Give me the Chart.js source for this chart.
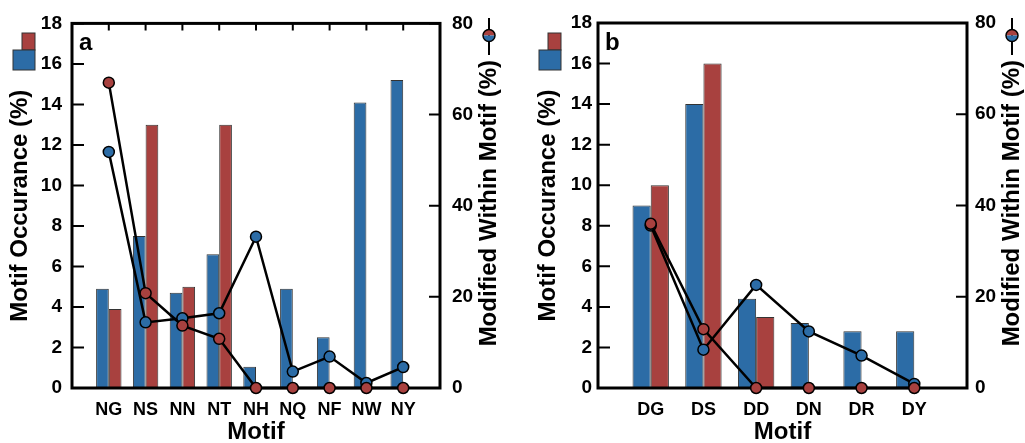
<!DOCTYPE html>
<html>
<head>
<meta charset="utf-8">
<script src="https://cdn.jsdelivr.net/npm/chart.js@4.4.0/dist/chart.umd.min.js"></script>
<style>
  html, body { margin: 0; padding: 0; background: #fff; }
  #wrap { position: relative; width: 1025px; height: 443px; overflow: hidden; }
  .panel { position: absolute; top: 0; height: 443px; }
  #panelA { left: 0; width: 512px; }
  #panelB { left: 512px; width: 513px; }
</style>
</head>
<body>
<div id="wrap">
  <div class="panel" id="panelA"><canvas id="chartA"></canvas></div>
  <div class="panel" id="panelB"><canvas id="chartB"></canvas></div>
</div>
<script>
// === Panel a data ===
const motifsA = ['NG', 'NS', 'NN', 'NT', 'NH', 'NQ', 'NF', 'NW', 'NY'];
const occurBlueA = [4.9, 7.5, 4.7, 6.6, 1.05, 4.9, 2.5, 14.1, 15.2];
const occurRedA = [3.9, 13, 5.0, 13, null, null, null, null, null];
const modBlueA = [51.8, 14.4, 15.3, 16.4, 33.2, 3.6, 6.9, 1.1, 4.6];
const modRedA = [67, 20.8, 13.7, 10.8, 0, 0, 0, 0, 0];

// === Panel b data ===
const motifsB = ['DG', 'DS', 'DD', 'DN', 'DR', 'DY'];
const occurBlueB = [9, 14, 4.4, 3.2, 2.8, 2.8];
const occurRedB = [10, 16, 3.5, null, null, null];
const modBlueB = [35.6, 8.4, 22.6, 12.4, 7.1, 0.9];
const modRedB = [36.0, 12.9, 0, 0, 0, 0];

// === Axis ticks ===
const occurTicks = [0, 2, 4, 6, 8, 10, 12, 14, 16, 18];
const modTicks = [0, 20, 40, 60, 80];

const BLUE = '#2c6ca6';
const RED = '#a8413f';
const FONT = "'Liberation Sans', Arial, sans-serif";

const toXY = arr => arr.map((v, i) => ({ x: i, y: v }));

// frame, inward ticks, panel letter and the little legend symbols
const framePlugin = {
  id: 'frame',
  beforeDatasetDraw(chart, args, opts) {
    if (args.index !== 2) return;
    const { ctx, chartArea: a, scales } = chart;
    ctx.save();
    ctx.strokeStyle = '#000';
    ctx.lineWidth = 2;
    ctx.beginPath();
    scales.y.ticks.forEach(t => {
      const y = scales.y.getPixelForValue(t.value);
      ctx.moveTo(a.left, y); ctx.lineTo(a.left + 12, y);
    });
    scales.y2.ticks.forEach(t => {
      const y = scales.y2.getPixelForValue(t.value);
      ctx.moveTo(a.right - 11, y); ctx.lineTo(a.right, y);
    });
    if (opts.topTicks) {
      scales.x.ticks.forEach(t => {
        const x = scales.x.getPixelForValue(t.value);
        ctx.moveTo(x, a.top); ctx.lineTo(x, a.top + 7);
      });
    }
    ctx.stroke();
    ctx.lineWidth = 3;
    ctx.strokeRect(a.left, a.top, a.right - a.left, a.bottom - a.top);
    ctx.restore();
  },
  afterDraw(chart, args, opts) {
    const { ctx, chartArea: a } = chart;
    ctx.save();
    // panel letter
    ctx.fillStyle = '#000';
    ctx.font = `bold 24px ${FONT}`;
    ctx.textAlign = 'left';
    ctx.textBaseline = 'alphabetic';
    ctx.fillText(opts.letter, a.left + 7, 50);

    // bar legend swatches
    ctx.strokeStyle = '#333';
    ctx.lineWidth = 1;
    ctx.fillStyle = RED;
    ctx.fillRect(a.left - 50, 33, 13, 17);
    ctx.strokeRect(a.left - 50, 33, 13, 17);
    ctx.fillStyle = BLUE;
    ctx.fillRect(a.left - 59, 50, 22, 20);
    ctx.strokeRect(a.left - 59, 50, 22, 20);

    // right axis title, reading upward
    const tx = a.right + opts.rightTitleDx;
    ctx.translate(tx, 60);
    ctx.rotate(-Math.PI / 2);
    ctx.fillStyle = '#000';
    ctx.font = `bold 24px ${FONT}`;
    ctx.textAlign = 'right';
    ctx.textBaseline = 'middle';
    ctx.fillText('Modified Within Motif (%)', 0, 0);
    ctx.restore();

    // line legend symbol
    ctx.save();
    ctx.strokeStyle = '#000';
    ctx.lineWidth = 2;
    ctx.beginPath();
    ctx.moveTo(tx, 18); ctx.lineTo(tx, 55);
    ctx.stroke();
    ctx.beginPath();
    ctx.arc(tx, 35.5, 6, Math.PI, 0);
    ctx.fillStyle = RED; ctx.fill();
    ctx.beginPath();
    ctx.arc(tx, 35.5, 6, 0, Math.PI);
    ctx.fillStyle = BLUE; ctx.fill();
    ctx.beginPath();
    ctx.arc(tx, 35.5, 6, 0, Math.PI * 2);
    ctx.lineWidth = 1.5;
    ctx.stroke();
    ctx.restore();
  }
};

function makeChart(canvasId, motifs, occBlue, occRed, modBlue, modRed, p) {
  const barStyle = {
    type: 'bar',
    yAxisID: 'y',
    borderColor: '#333',
    borderWidth: 1,
    categoryPercentage: 0.69,
    barPercentage: 1.0
  };
  const lineStyle = {
    type: 'line',
    yAxisID: 'y2',
    borderColor: '#000',
    borderWidth: 2.5,
    pointRadius: 5.5,
    pointBorderColor: '#000',
    pointBorderWidth: 1.5,
    tension: 0,
    clip: false
  };
  return new Chart(document.getElementById(canvasId), {
    type: 'bar',
    data: {
      datasets: [
        { ...barStyle, data: toXY(occBlue), backgroundColor: BLUE, order: 2 },
        { ...barStyle, data: toXY(occRed), backgroundColor: RED, order: 3 },
        { ...lineStyle, data: toXY(modBlue), pointBackgroundColor: BLUE, order: 1 },
        { ...lineStyle, data: toXY(modRed), pointBackgroundColor: RED, order: 0 }
      ]
    },
    options: {
      responsive: true,
      maintainAspectRatio: false,
      animation: false,
      layout: { padding: { top: 23, left: 0, right: 0, bottom: 0 } },
      plugins: {
        legend: { display: false },
        tooltip: { enabled: false },
        frame: { letter: p.letter, topTicks: p.topTicks, rightTitleDx: p.rightTitleDx }
      },
      scales: {
        x: {
          type: 'linear',
          offset: false,
          min: -1,
          max: motifs.length,
          grid: { display: false, drawTicks: false },
          border: { display: false },
          afterBuildTicks: scale => { scale.ticks = motifs.map((m, i) => ({ value: i })); },
          afterFit: scale => { scale.height = 55; },
          ticks: {
            autoSkip: false,
            maxRotation: 0,
            padding: 11,
            color: '#000',
            font: { family: FONT, size: 18, weight: 'bold' },
            callback: v => motifs[v]
          },
          title: {
            display: true,
            text: 'Motif',
            color: '#000',
            padding: 0,
            font: { family: FONT, size: 24, weight: 'bold', lineHeight: 0.85 }
          }
        },
        y: {
          position: 'left',
          min: 0,
          max: 18,
          grid: { display: false, drawTicks: false },
          border: { display: false },
          afterBuildTicks: scale => { scale.ticks = occurTicks.map(v => ({ value: v })); },
          afterFit: scale => { scale.width = p.leftWidth; },
          ticks: {
            padding: p.leftPad,
            color: '#000',
            font: { family: FONT, size: 19, weight: 'bold' }
          },
          title: {
            display: true,
            text: 'Motif Occurance (%)',
            color: '#000',
            padding: { top: p.leftTitlePad, bottom: 0 },
            font: { family: FONT, size: 24, weight: 'bold' }
          }
        },
        y2: {
          position: 'right',
          min: 0,
          max: 80,
          grid: { display: false, drawTicks: false },
          border: { display: false },
          afterBuildTicks: scale => { scale.ticks = modTicks.map(v => ({ value: v })); },
          afterFit: scale => { scale.width = p.rightWidth; },
          ticks: {
            padding: p.rightPad,
            color: '#000',
            font: { family: FONT, size: 19, weight: 'bold' }
          }
        }
      }
    },
    plugins: [framePlugin]
  });
}

makeChart('chartA', motifsA, occurBlueA, occurRedA, modBlueA, modRedA, {
  letter: 'a', topTicks: true, leftWidth: 72, rightWidth: 72,
  leftPad: 10, rightPad: 12, leftTitlePad: 6, rightTitleDx: 49
});
makeChart('chartB', motifsB, occurBlueB, occurRedB, modBlueB, modRedB, {
  letter: 'b', topTicks: false, leftWidth: 86, rightWidth: 58,
  leftPad: 6, rightPad: 8, leftTitlePad: 22, rightTitleDx: 45
});
</script>
</body>
</html>
